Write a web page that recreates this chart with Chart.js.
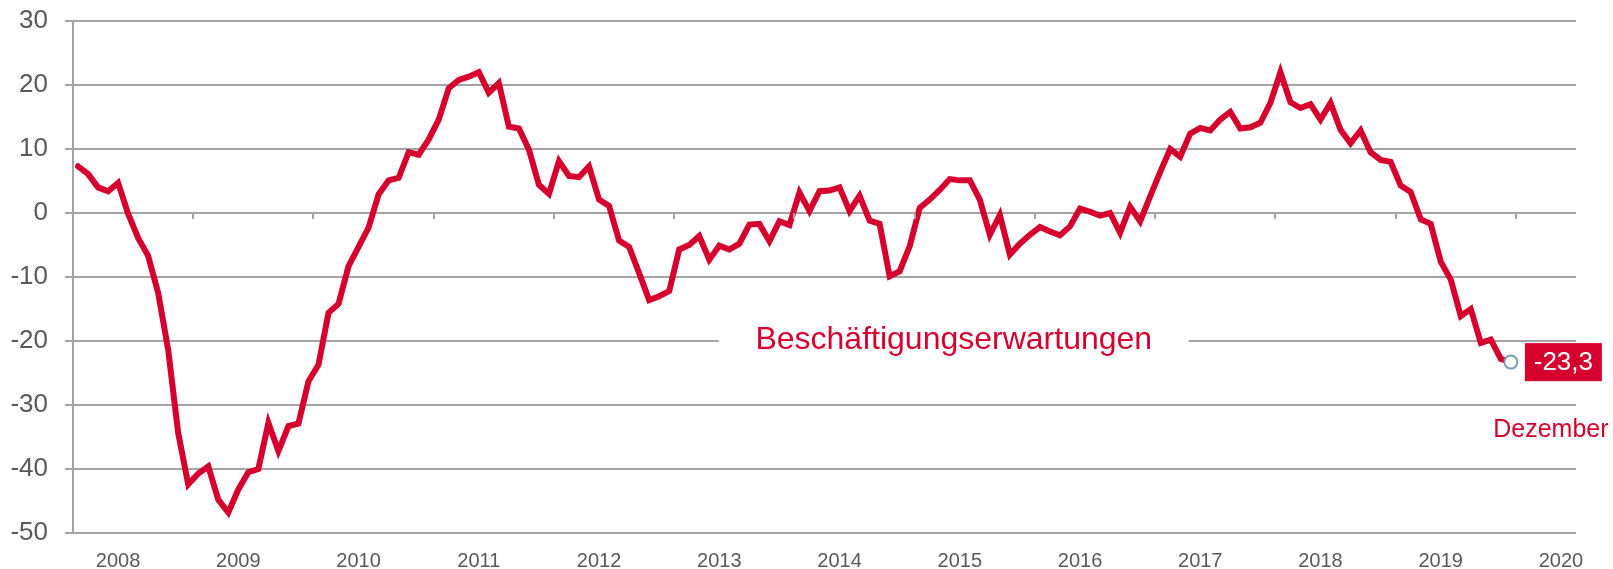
<!DOCTYPE html>
<html>
<head>
<meta charset="utf-8">
<script src="https://cdn.jsdelivr.net/npm/chart.js@4/dist/chart.umd.min.js"></script>
<style>
  html, body { margin: 0; padding: 0; background: #fff; }
  #wrap { width: 1613px; height: 569px; }
</style>
</head>
<body>
<div id="wrap"><canvas id="chart" width="1613" height="569"></canvas></div>
<script>
// monthly values, Jan 2008 .. Dec 2019
const values = [
  7.3, 6.1, 4.0, 3.4, 4.7, -0.1, -3.9, -6.7, -12.5, -21.4, -34.4, -42.4,
  -40.7, -39.6, -44.8, -46.8, -43.2, -40.5, -40.0, -32.8, -37.2, -33.3, -32.9, -26.3,
  -23.7, -15.6, -14.2, -8.3, -5.3, -2.3, 2.9, 5.1, 5.5, 9.5, 9.1, 11.5,
  14.6, 19.5, 20.8, 21.3, 22.0, 18.8, 20.3, 13.5, 13.2, 9.9, 4.4, 3.0,
  8.1, 5.8, 5.6, 7.3, 2.1, 1.1, -4.3, -5.3, -9.4, -13.6, -13.0, -12.2,
  -5.7, -5.0, -3.6, -7.3, -5.1, -5.7, -4.8, -1.8, -1.7, -4.4, -1.3, -1.9,
  3.2, 0.3, 3.4, 3.5, 4.0, 0.3, 2.7, -1.2, -1.7, -9.9, -9.1, -5.2,
  0.8, 2.1, 3.6, 5.3, 5.1, 5.1, 2.1, -3.4, -0.3, -6.5, -4.8, -3.4,
  -2.2, -2.9, -3.5, -2.1, 0.7, 0.2, -0.4, 0.0, -3.1, 1.0, -1.3, 2.6,
  6.4, 10.0, 8.8, 12.4, 13.3, 12.9, 14.6, 15.8, 13.2, 13.4, 14.1, 17.2,
  22.0, 17.3, 16.4, 17.0, 14.6, 17.2, 13.0, 10.9, 12.9, 9.5, 8.3, 8.0,
  4.3, 3.3, -1.0, -1.7, -7.6, -10.4, -16.1, -15.0, -20.3, -19.8, -22.8, -23.3
];
const years = ["2008", "2009", "2010", "2011", "2012", "2013", "2014",
               "2015", "2016", "2017", "2018", "2019", "2020"];
const seriesName = "Beschäftigungserwartungen";
const lastLabel = "-23,3";
const lastMonth = "Dezember";

const RED = "#d5002d";
const GRID = "#a4a4a4";
const TEXT = "#595959";
const FONT = "Arial, 'Liberation Sans', sans-serif";

const last = values.length - 1;

const extras = {
  id: "extras",
  afterDatasetsDraw(chart) {
    const { ctx, scales: { x, y } } = chart;
    ctx.save();
    // small year tick marks hanging under the zero line
    ctx.strokeStyle = GRID;
    ctx.lineWidth = 2;
    const y0 = y.getPixelForValue(0);
    for (let k = 1; k < years.length; k++) {
      const px = Math.round(x.getPixelForValue(12 * k - 0.5));
      ctx.beginPath();
      ctx.moveTo(px, y0);
      ctx.lineTo(px, y0 + 6);
      ctx.stroke();
    }

    // series name sitting on the -20 line
    const cx = x.getPixelForValue(87.4);
    const cy = y.getPixelForValue(-20);
    ctx.fillStyle = "#fff";
    ctx.fillRect(cx - 235, cy - 16, 470, 32);
    ctx.fillStyle = RED;
    ctx.font = "32px " + FONT;
    ctx.textAlign = "center";
    ctx.textBaseline = "middle";
    ctx.fillText(seriesName, cx, cy - 1);

    // last value box
    const pt = chart.getDatasetMeta(0).data[last];
    ctx.fillStyle = RED;
    ctx.fillRect(pt.x + 14, pt.y - 19, 77, 38);
    ctx.fillStyle = "#fff";
    ctx.font = "26px " + FONT;
    ctx.fillText(lastLabel, pt.x + 52.5, pt.y + 1);

    ctx.fillStyle = RED;
    ctx.font = "25px " + FONT;
    ctx.fillText(lastMonth, pt.x + 40, pt.y + 68);
    ctx.restore();
  }
};

new Chart(document.getElementById("chart"), {
  type: "line",
  data: {
    datasets: [{
      data: values.map((v, i) => ({ x: i, y: v })),
      borderColor: RED,
      borderWidth: 6,
      borderCapStyle: "round",
      tension: 0,
      pointRadius: c => c.dataIndex === last ? 6.5 : 0,
      pointBorderWidth: 2,
      pointBorderColor: "#7b9dba",
      pointBackgroundColor: "#fff"
    }]
  },
  options: {
    responsive: false,
    animation: false,
    layout: { padding: { top: 21, right: 37, left: 0, bottom: 0 } },
    plugins: { legend: { display: false }, tooltip: { enabled: false } },
    scales: {
      x: {
        type: "linear",
        min: -0.5,
        max: 149.5,
        afterBuildTicks: s => { s.ticks = years.map((_, k) => ({ value: 4 + 12 * k })); },
        afterFit: s => { s.height = 36; s.paddingLeft = 0; s.paddingRight = 0; },
        grid: { display: false },
        border: { display: false },
        ticks: {
          autoSkip: false,
          maxRotation: 0,
          padding: 8,
          color: TEXT,
          font: { family: FONT, size: 20 },
          callback: (v, i) => years[i]
        }
      },
      y: {
        min: -50,
        max: 30,
        afterFit: s => { s.width = 73; s.paddingTop = 0; s.paddingBottom = 0; },
        grid: { color: GRID, lineWidth: 2, tickLength: 8, tickColor: GRID },
        border: { display: true, color: GRID, width: 2 },
        ticks: {
          stepSize: 10,
          padding: 17,
          color: TEXT,
          font: { family: FONT, size: 26 }
        }
      }
    }
  },
  plugins: [extras]
});
</script>
</body>
</html>
